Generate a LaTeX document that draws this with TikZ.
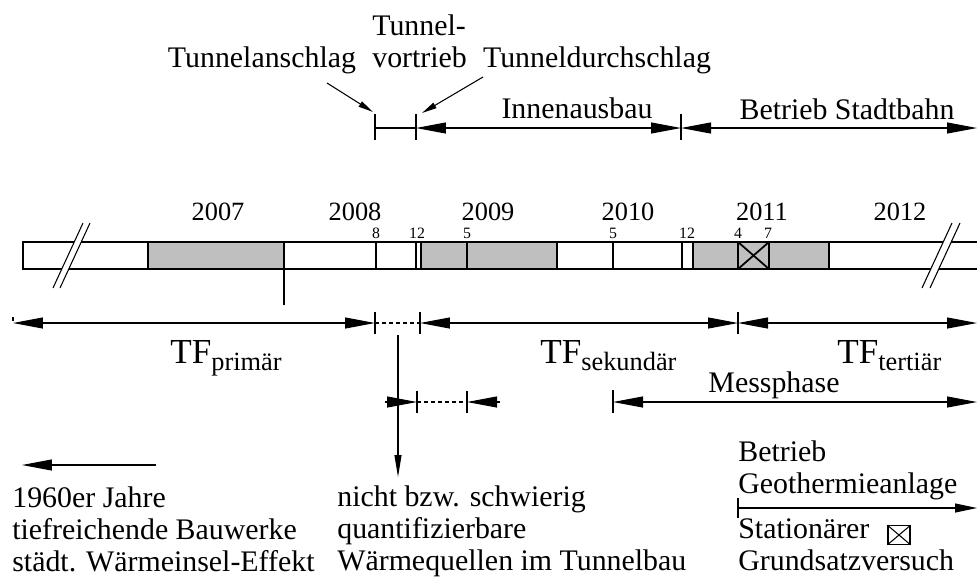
\documentclass[tikz,border=0pt]{standalone}
\usepackage{fontspec}
\setmainfont{Liberation Serif}
\usetikzlibrary{arrows.meta}

\begin{document}
\begin{tikzpicture}[x=0.02cm,y=-0.02cm,
  tline/.style={line width=0.6pt},
  bline/.style={line width=1pt},
  dim/.style={tline,{Triangle[length=6mm,width=2.2mm]}-{Triangle[length=6mm,width=2.2mm]}},
  dimr/.style={tline,-{Triangle[length=6mm,width=2.2mm]}},
  diml/.style={tline,{Triangle[length=6mm,width=2.2mm]}-},
  pointer/.style={tline,-{Triangle[length=3mm,width=1.2mm]}},
  down/.style={tline,-{Triangle[length=4.4mm,width=1.4mm]}},
  lbl/.style={font=\fontsize{17}{18}\selectfont,anchor=base},
  multi/.style={lbl,anchor=base west,align=left},
  yr/.style={font=\fontsize{15}{15}\selectfont,anchor=base},
  mon/.style={font=\fontsize{9}{9}\selectfont,anchor=base},
  tf/.style={font=\fontsize{20}{20}\selectfont,anchor=base west}]
\tikzstyle{every node}+=[inner sep=0pt]
\useasboundingbox (0,0) rectangle (977,576);
\fill [black!25] (148,242) rectangle (284,269);
\fill [black!25] (421,242) rectangle (557,269);
\fill [black!25] (693,242) rectangle (829,269);
\draw [bline] (977,242) -- (23,242) -- (23,269) -- (977,269);
\foreach \x in {148,284,376,416,421,467,557,613,682,693,738,769,829}
  \draw [bline] (\x,242) -- (\x,269);
\draw [bline] (738,242) -- (769,269) (738,269) -- (769,242);
\draw [tline] (284,269) -- (284,305);
\fill [white] (53,288) -- (83,223) -- (90,223) -- (60,288) -- cycle;
\draw [tline] (53,288) -- (83,223) (60,288) -- (90,223);
\fill [white] (922,288) -- (952,223) -- (960,223) -- (930,288) -- cycle;
\draw [tline] (922,288) -- (952,223) (930,288) -- (960,223);
\node [yr] (y7) at (218,220) {2007};
\node [yr] (y8) at (355,220) {2008};
\node [yr] (y9) at (488,220) {2009};
\node [yr] (y10) at (628,220) {2010};
\node [yr] (y11) at (762,220) {2011};
\node [yr] (y12) at (900,220) {2012};
\node [mon] (m8) at (376,238) {8};
\node [mon] (m12a) at (417,238) {12};
\node [mon] (m5a) at (467,238) {5};
\node [mon] (m5b) at (613,238) {5};
\node [mon] (m12b) at (687,238) {12};
\node [mon] (m4) at (738,238) {4};
\node [mon] (m7) at (768,238) {7};
\node [lbl] (anschlag) at (262,67) {Tunnelanschlag};
\node [multi] (vortrieb) at (372,67) {Tunnel-\\vortrieb};
\node [lbl] (durchschlag) at (597,67) {Tunneldurchschlag};
\node [lbl] (innen) at (577,118) {Innenausbau};
\node [lbl] (stadtbahn) at (847,119) {Betrieb Stadtbahn};
\coordinate (t1) at (375,128);
\coordinate (t2) at (416,128);
\coordinate (t3) at (681,128);
\coordinate (t4) at (977,128);
\coordinate (pa) at (327,83);
\coordinate (pa1) at (373,112);
\coordinate (pb) at (483,77);
\coordinate (pb1) at (422,113);
\draw [pointer] (pa) -- (pa1);
\draw [pointer] (pb) -- (pb1);
\draw [tline] (t1) -- (t2);
\draw [dim] (t2) -- (t3);
\draw [dim] (t3) -- (t4);
\foreach \c in {t1,t2,t3}
  \draw [tline] (\c) ++(0,-14) -- ++(0,26);
\coordinate (f0) at (13,323);
\coordinate (f1) at (375,323);
\coordinate (f2) at (420,323);
\coordinate (f3) at (738,323);
\coordinate (f4) at (977,323);
\draw [tline] (f0) ++(0,-6) -- ++(0,4);
\draw [dim] (f0) -- (f1);
\draw [tline,dash pattern=on 2pt off 2pt] (f1) -- (f2);
\draw [dim] (f2) -- (f3);
\draw [dim] (f3) -- (f4);
\foreach \c in {f1,f2,f3}
  \draw [tline] (\c) ++(0,-11) -- ++(0,22);
\node [tf] (tfp) at (170,363) {TF\raisebox{-0.14cm}{\fontsize{15}{15}\selectfont primär}};
\node [tf] (tfs) at (540,363) {TF\raisebox{-0.14cm}{\fontsize{15}{15}\selectfont sekundär}};
\node [tf] (tft) at (837,363) {TF\raisebox{-0.14cm}{\fontsize{15}{15}\selectfont tertiär}};
\coordinate (v0) at (398,335);
\coordinate (v1) at (398,477);
\draw [down] (v0) -- (v1);
\coordinate (g0) at (385,402);
\coordinate (g1) at (417,402);
\coordinate (g2) at (467,402);
\coordinate (g3) at (500,402);
\draw [dimr] (g0) -- (g1);
\draw [tline,dash pattern=on 2pt off 2pt] (g1) -- (g2);
\draw [diml] (g2) -- (g3);
\foreach \c in {g1,g2}
  \draw [tline] (\c) ++(0,-11) -- ++(0,22);
\node [lbl] (mess) at (774,392) {Messphase};
\coordinate (ms0) at (613,402);
\coordinate (ms1) at (977,402);
\draw [dim] (ms0) -- (ms1);
\draw [tline] (ms0) ++(0,-12) -- ++(0,23);
\coordinate (b0) at (156,465);
\coordinate (b1) at (22,465);
\draw [dimr] (b0) -- (b1);
\node [multi] (urban) at (12,571) {1960er Jahre\\tiefreichende Bauwerke\\städt. Wärmeinsel-Effekt};
\node [multi] (quellen) at (337,570) {nicht bzw. schwierig\\quantifizierbare\\Wärmequellen im Tunnelbau};
\node [multi] (geo) at (738,493) {Betrieb\\Geothermieanlage};
\coordinate (r0) at (738,508);
\coordinate (r1) at (977,508);
\draw [tline,-{Triangle[length=4.4mm,width=1.8mm]}] (r0) -- (r1);
\draw [tline] (r0) ++(0,-10) -- ++(0,20);
\node [multi] (versuch) at (738,570) {Stationärer\\Grundsatzversuch};
\node [draw,tline,minimum width=0.44cm,minimum height=0.37cm] (xb) at (899,535) {};
\draw [tline] (xb.north west) -- (xb.south east) (xb.north east) -- (xb.south west);
\end{tikzpicture}
\end{document}
